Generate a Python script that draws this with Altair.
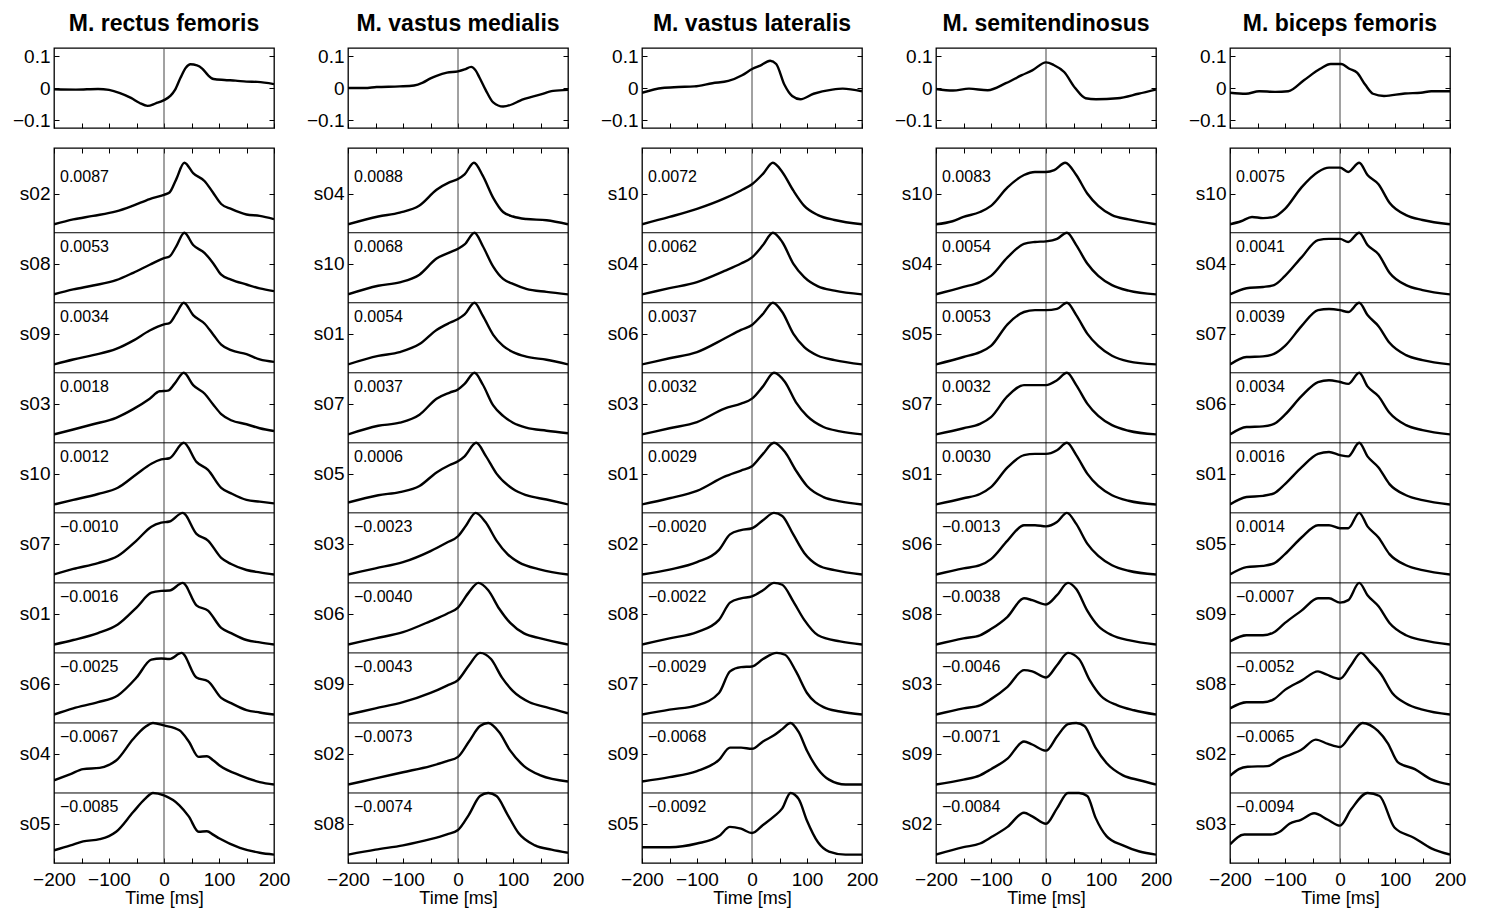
import altair as alt
import pandas as pd

FONT = "Liberation Sans"
W = 220
H_TOP = 80
H_BOT = 715
Y_MAX = 10.21
E = 44

MUSCLES = ["M. rectus femoris", "M. vastus medialis", "M. vastus lateralis",
           "M. semitendinosus", "M. biceps femoris"]
XTICKS = [-200, -150, -100, -50, 0, 50, 100, 150, 200]
YTICKS_TOP = [-0.1, 0, 0.1]

# ---- top panels: difference curves (time ms, value) ----
RF_DIFF = [(-200, -0.004), (-160, -0.005), (-120, -0.003), (-100, -0.006), (-80, -0.016), (-60, -0.031),
           (-45, -0.046), (-30, -0.056), (-15, -0.048), (0, -0.038), (12, -0.024), (20, -0.006), (30, 0.032),
           (40, 0.064), (48, 0.074), (60, 0.071), (70, 0.06), (80, 0.04), (90, 0.028), (110, 0.025),
           (130, 0.023), (150, 0.02), (170, 0.019), (200, 0.012)]
VM_DIFF = [(-200, 0.0), (-170, 0.0), (-148, 0.003), (-106, 0.005), (-80, 0.008), (-64, 0.017), (-50, 0.03),
           (-39, 0.038), (-20, 0.048), (0, 0.052), (12, 0.058), (24, 0.066), (32, 0.055), (39, 0.033),
           (50, -0.005), (64, -0.045), (82, -0.058), (100, -0.05), (112, -0.04), (149, -0.021),
           (173, -0.009), (200, -0.006)]
VL_DIFF = [(-200, -0.015), (-163, 0.0), (-134, 0.003), (-105, 0.005), (-72, 0.015), (-43, 0.022),
           (-18, 0.04), (1, 0.06), (15, 0.07), (33, 0.085), (44, 0.075), (59, 0.01), (73, -0.025),
           (88, -0.035), (112, -0.018), (146, -0.005), (165, -0.002), (200, -0.01)]
ST_DIFF = [(-200, -0.003), (-169, -0.008), (-140, -0.002), (-106, -0.007), (-73, 0.015), (-44, 0.04),
           (-25, 0.055), (0, 0.08), (14, 0.072), (33, 0.05), (53, 0.0), (72, -0.032), (91, -0.035),
           (130, -0.032), (168, -0.018), (200, -0.005)]
BF_DIFF = [(-200, -0.015), (-171, -0.018), (-147, -0.01), (-118, -0.012), (-94, -0.01), (-65, 0.025),
           (-36, 0.06), (-17, 0.075), (2, 0.075), (17, 0.06), (31, 0.048), (46, 0.01), (60, -0.018),
           (80, -0.025), (118, -0.017), (147, -0.015), (166, -0.01), (200, -0.01)]

# ---- bottom panels: row order, annotations, normalized curves (time ms, 0..1) ----
RF_ORDER = ["s02", "s08", "s09", "s03", "s10", "s07", "s01", "s06", "s04", "s05"]
RF_NOTES = ["0.0087", "0.0053", "0.0034", "0.0018", "0.0012", "\u22120.0010", "\u22120.0016",
            "\u22120.0025", "\u22120.0067", "\u22120.0085"]
RF_CURVES = {
    "s02": [(-200, 0), (-165, 0.08), (-129, 0.137), (-87, 0.21), (-56, 0.305), (-26, 0.41), (0, 0.48),
            (10, 0.516), (22, 0.726), (37, 1.0), (53, 0.83), (74, 0.7), (89, 0.516), (104, 0.33),
            (122, 0.25), (150, 0.16), (174, 0.137), (200, 0.084)],
    "s08": [(-200, 0), (-165, 0.08), (-129, 0.144), (-87, 0.23), (-56, 0.35), (-26, 0.48), (0, 0.588),
            (10, 0.615), (22, 0.775), (37, 1.0), (53, 0.8), (74, 0.67), (89, 0.51), (104, 0.32),
            (122, 0.24), (150, 0.16), (174, 0.096), (200, 0.053)],
    "s09": [(-200, 0), (-165, 0.08), (-129, 0.15), (-87, 0.25), (-56, 0.385), (-26, 0.55), (0, 0.65),
            (10, 0.67), (22, 0.82), (36, 1.0), (53, 0.8), (74, 0.66), (89, 0.49), (104, 0.32),
            (122, 0.23), (150, 0.165), (174, 0.08), (200, 0.04)],
    "s03": [(-200, 0), (-165, 0.08), (-129, 0.165), (-87, 0.27), (-56, 0.41), (-26, 0.58), (-8, 0.70),
            (7, 0.71), (19, 0.82), (36, 1.0), (53, 0.8), (74, 0.66), (89, 0.49), (104, 0.33),
            (122, 0.23), (150, 0.165), (174, 0.1), (200, 0.055)],
    "s10": [(-200, 0), (-165, 0.073), (-120, 0.17), (-84, 0.27), (-50, 0.49), (-23, 0.66), (-5, 0.73),
            (10, 0.75), (36, 1.0), (59, 0.69), (80, 0.56), (104, 0.27), (122, 0.18), (150, 0.073),
            (174, 0.045), (200, 0.017)],
    "s07": [(-200, 0), (-165, 0.09), (-120, 0.185), (-84, 0.3), (-50, 0.55), (-23, 0.775), (-5, 0.84),
            (10, 0.86), (34, 1.0), (59, 0.66), (80, 0.55), (104, 0.27), (122, 0.17), (150, 0.073),
            (174, 0.034), (200, 0)],
    "s01": [(-200, 0), (-165, 0.073), (-120, 0.185), (-84, 0.325), (-50, 0.6), (-23, 0.84), (-5, 0.87),
            (10, 0.876), (34, 1.0), (59, 0.635), (80, 0.55), (104, 0.27), (122, 0.185), (150, 0.073),
            (174, 0.034), (200, 0)],
    "s06": [(-200, 0), (-165, 0.1), (-120, 0.2), (-84, 0.31), (-50, 0.6), (-23, 0.89), (-5, 0.91),
            (10, 0.9), (32, 1.0), (59, 0.6), (80, 0.54), (104, 0.27), (122, 0.185), (150, 0.073),
            (174, 0.034), (200, 0)],
    "s04": [(-200, 0.07), (-170, 0.17), (-147, 0.25), (-117, 0.27), (-100, 0.32), (-87, 0.39), (-56, 0.74),
            (-35, 0.93), (-20, 1.0), (0, 0.96), (28, 0.88), (45, 0.7), (63, 0.45), (78, 0.46), (90, 0.39),
            (101, 0.31), (138, 0.15), (174, 0.04), (200, 0)],
    "s05": [(-200, 0.07), (-170, 0.15), (-147, 0.215), (-117, 0.25), (-100, 0.3), (-87, 0.37), (-56, 0.69),
            (-35, 0.9), (-20, 1.0), (0, 0.96), (28, 0.8), (45, 0.62), (63, 0.37), (78, 0.38), (90, 0.32),
            (101, 0.26), (138, 0.11), (174, 0.03), (200, 0)],
}

VM_ORDER = ["s04", "s10", "s01", "s07", "s05", "s03", "s06", "s09", "s02", "s08"]
VM_NOTES = ["0.0088", "0.0068", "0.0054", "0.0037", "0.0006", "\u22120.0023", "\u22120.0040",
            "\u22120.0043", "\u22120.0073", "\u22120.0074"]
VM_CURVES = {
    "s04": [(-200, 0), (-145, 0.127), (-106, 0.19), (-70, 0.305), (-39, 0.56), (-15, 0.685), (0, 0.736),
            (12, 0.81), (29, 1.0), (45, 0.79), (64, 0.43), (82, 0.2), (100, 0.127), (124, 0.086),
            (161, 0.066), (200, 0)],
    "s10": [(-200, 0), (-145, 0.14), (-106, 0.195), (-70, 0.32), (-39, 0.58), (-15, 0.68), (0, 0.74),
            (12, 0.81), (30, 1.0), (45, 0.785), (64, 0.45), (82, 0.25), (100, 0.17), (124, 0.09),
            (161, 0.04), (200, 0)],
    "s01": [(-200, 0), (-145, 0.137), (-106, 0.2), (-70, 0.33), (-39, 0.56), (-15, 0.675), (0, 0.736),
            (12, 0.81), (30, 1.0), (45, 0.79), (64, 0.48), (82, 0.3), (100, 0.2), (124, 0.127),
            (161, 0.076), (200, 0)],
    "s07": [(-200, 0), (-145, 0.14), (-106, 0.19), (-70, 0.32), (-39, 0.58), (-15, 0.68), (0, 0.73),
            (12, 0.82), (30, 1.0), (45, 0.81), (64, 0.47), (82, 0.3), (100, 0.19), (124, 0.11),
            (161, 0.06), (200, 0.02)],
    "s05": [(-200, 0.03), (-145, 0.15), (-106, 0.2), (-70, 0.3), (-39, 0.52), (-15, 0.64), (0, 0.7),
            (12, 0.78), (33, 1.0), (51, 0.78), (70, 0.5), (100, 0.25), (124, 0.15), (161, 0.08), (200, 0)],
    "s03": [(-200, 0), (-150, 0.1), (-100, 0.2), (-50, 0.38), (-20, 0.52), (0, 0.62), (15, 0.8), (32, 1.0),
            (50, 0.85), (70, 0.55), (90, 0.33), (110, 0.2), (150, 0.08), (200, 0)],
    "s06": [(-200, 0), (-150, 0.1), (-100, 0.2), (-50, 0.38), (-20, 0.5), (0, 0.6), (20, 0.85), (37, 1.0),
            (55, 0.88), (75, 0.58), (95, 0.35), (120, 0.18), (150, 0.1), (200, 0)],
    "s09": [(-200, 0), (-150, 0.1), (-100, 0.2), (-50, 0.35), (-20, 0.47), (0, 0.56), (20, 0.8), (40, 1.0),
            (60, 0.9), (80, 0.6), (100, 0.38), (130, 0.2), (160, 0.12), (200, 0.02)],
    "s02": [(-200, 0), (-150, 0.1), (-100, 0.2), (-50, 0.3), (-20, 0.38), (0, 0.45), (20, 0.7), (40, 0.95),
            (55, 1.0), (75, 0.85), (95, 0.55), (120, 0.3), (150, 0.15), (200, 0.05)],
    "s08": [(-200, 0), (-150, 0.08), (-100, 0.15), (-50, 0.25), (-20, 0.33), (0, 0.4), (20, 0.65),
            (40, 0.95), (55, 1.0), (70, 0.95), (90, 0.65), (110, 0.35), (140, 0.15), (170, 0.08),
            (200, 0.03)],
}

VL_ORDER = ["s10", "s04", "s06", "s03", "s01", "s02", "s08", "s07", "s09", "s05"]
VL_NOTES = ["0.0072", "0.0062", "0.0037", "0.0032", "0.0029", "\u22120.0020", "\u22120.0022",
            "\u22120.0029", "\u22120.0068", "\u22120.0092"]
VL_CURVES = {
    "s10": [(-200, 0), (-150, 0.12), (-100, 0.25), (-50, 0.42), (-20, 0.55), (0, 0.65), (20, 0.82),
            (38, 1.0), (55, 0.85), (75, 0.55), (95, 0.3), (120, 0.15), (150, 0.07), (200, 0)],
    "s04": [(-200, 0), (-150, 0.1), (-100, 0.2), (-50, 0.38), (-20, 0.5), (0, 0.6), (20, 0.8), (38, 1.0),
            (55, 0.85), (75, 0.5), (95, 0.28), (120, 0.13), (150, 0.06), (200, 0)],
    "s06": [(-200, 0), (-150, 0.1), (-100, 0.2), (-50, 0.42), (-20, 0.56), (0, 0.64), (20, 0.82),
            (38, 1.0), (55, 0.85), (75, 0.5), (95, 0.28), (120, 0.14), (150, 0.07), (200, 0)],
    "s03": [(-200, 0), (-150, 0.1), (-100, 0.2), (-50, 0.42), (-20, 0.5), (0, 0.58), (20, 0.78), (40, 1.0),
            (60, 0.85), (80, 0.52), (100, 0.3), (130, 0.12), (160, 0.05), (200, 0)],
    "s01": [(-200, 0), (-150, 0.1), (-100, 0.22), (-50, 0.45), (-20, 0.55), (0, 0.62), (20, 0.82),
            (40, 1.0), (60, 0.85), (80, 0.55), (100, 0.3), (130, 0.12), (160, 0.05), (200, 0)],
    "s02": [(-200, 0), (-150, 0.08), (-100, 0.2), (-60, 0.4), (-40, 0.65), (-20, 0.72), (0, 0.75),
            (20, 0.88), (40, 1.0), (55, 0.95), (75, 0.65), (95, 0.35), (120, 0.15), (150, 0.07), (200, 0)],
    "s08": [(-200, 0), (-150, 0.1), (-100, 0.2), (-60, 0.4), (-40, 0.68), (-20, 0.75), (0, 0.78),
            (20, 0.88), (40, 1.0), (55, 0.97), (75, 0.7), (95, 0.4), (120, 0.15), (160, 0.05), (200, 0)],
    "s07": [(-200, 0), (-150, 0.08), (-100, 0.15), (-60, 0.35), (-40, 0.7), (-20, 0.77), (0, 0.78),
            (20, 0.9), (45, 1.0), (60, 0.97), (80, 0.7), (100, 0.35), (130, 0.12), (160, 0.05), (200, 0)],
    "s09": [(-200, 0.05), (-150, 0.12), (-100, 0.22), (-60, 0.4), (-40, 0.6), (-20, 0.6), (0, 0.58),
            (20, 0.7), (40, 0.8), (55, 0.9), (70, 1.0), (85, 0.85), (100, 0.55), (120, 0.25), (140, 0.08),
            (170, 0), (200, 0)],
    "s05": [(-200, 0.12), (-150, 0.12), (-100, 0.18), (-60, 0.3), (-40, 0.45), (-20, 0.42), (0, 0.35),
            (20, 0.48), (40, 0.62), (55, 0.75), (70, 1.0), (85, 0.9), (100, 0.55), (120, 0.2), (140, 0.05),
            (170, 0), (200, 0)],
}

ST_ORDER = ["s10", "s04", "s05", "s07", "s01", "s06", "s08", "s03", "s09", "s02"]
ST_NOTES = ["0.0083", "0.0054", "0.0053", "0.0032", "0.0030", "\u22120.0013", "\u22120.0038",
            "\u22120.0046", "\u22120.0071", "\u22120.0084"]
ST_CURVES = {
    "s10": [(-200, 0), (-170, 0.05), (-150, 0.12), (-120, 0.2), (-100, 0.3), (-70, 0.6), (-40, 0.8),
            (-20, 0.85), (0, 0.85), (15, 0.88), (35, 1.0), (55, 0.8), (75, 0.5), (95, 0.3), (120, 0.15),
            (150, 0.08), (200, 0)],
    "s04": [(-200, 0), (-150, 0.12), (-120, 0.2), (-100, 0.3), (-70, 0.6), (-40, 0.82), (-20, 0.85),
            (0, 0.86), (20, 0.9), (38, 1.0), (55, 0.8), (75, 0.5), (95, 0.3), (120, 0.15), (150, 0.06),
            (200, 0)],
    "s05": [(-200, 0), (-150, 0.12), (-120, 0.2), (-100, 0.3), (-70, 0.65), (-40, 0.85), (-20, 0.88),
            (0, 0.88), (20, 0.9), (38, 1.0), (55, 0.8), (75, 0.5), (95, 0.3), (120, 0.14), (150, 0.05),
            (200, 0)],
    "s07": [(-200, 0), (-150, 0.1), (-120, 0.17), (-100, 0.28), (-70, 0.62), (-40, 0.8), (-20, 0.8),
            (0, 0.8), (20, 0.88), (38, 1.0), (55, 0.8), (75, 0.5), (95, 0.3), (120, 0.15), (150, 0.06),
            (200, 0)],
    "s01": [(-200, 0), (-150, 0.1), (-120, 0.17), (-100, 0.28), (-70, 0.6), (-40, 0.8), (-20, 0.82),
            (0, 0.82), (20, 0.88), (38, 1.0), (55, 0.8), (75, 0.5), (95, 0.3), (120, 0.15), (150, 0.06),
            (200, 0)],
    "s06": [(-200, 0), (-150, 0.1), (-120, 0.15), (-100, 0.25), (-70, 0.55), (-40, 0.8), (-20, 0.8),
            (0, 0.78), (20, 0.85), (38, 1.0), (55, 0.82), (75, 0.5), (95, 0.3), (120, 0.15), (150, 0.06),
            (200, 0)],
    "s08": [(-200, 0), (-150, 0.1), (-120, 0.15), (-100, 0.25), (-70, 0.45), (-40, 0.75), (-25, 0.72),
            (0, 0.65), (20, 0.8), (40, 1.0), (55, 0.9), (75, 0.55), (95, 0.3), (120, 0.15), (150, 0.07),
            (200, 0)],
    "s03": [(-200, 0), (-150, 0.1), (-120, 0.15), (-100, 0.25), (-70, 0.45), (-40, 0.72), (-25, 0.7),
            (0, 0.6), (20, 0.8), (40, 1.0), (60, 0.9), (80, 0.55), (100, 0.3), (130, 0.15), (160, 0.07),
            (200, 0)],
    "s09": [(-200, 0), (-150, 0.08), (-120, 0.15), (-100, 0.25), (-70, 0.42), (-40, 0.7), (-25, 0.65),
            (0, 0.55), (20, 0.78), (40, 0.98), (55, 1.0), (70, 0.95), (90, 0.6), (110, 0.35), (140, 0.15),
            (170, 0.07), (200, 0)],
    "s02": [(-200, 0), (-150, 0.12), (-120, 0.18), (-100, 0.28), (-70, 0.45), (-40, 0.68), (-25, 0.62),
            (0, 0.5), (20, 0.75), (40, 1.0), (60, 1.0), (75, 0.95), (90, 0.6), (110, 0.3), (140, 0.15),
            (170, 0.05), (200, 0)],
}

BF_ORDER = ["s10", "s04", "s07", "s06", "s01", "s05", "s09", "s08", "s02", "s03"]
BF_NOTES = ["0.0075", "0.0041", "0.0039", "0.0034", "0.0016", "0.0014", "\u22120.0007",
            "\u22120.0052", "\u22120.0065", "\u22120.0094"]
BF_CURVES = {
    "s10": [(-200, 0), (-180, 0.05), (-160, 0.12), (-140, 0.1), (-120, 0.12), (-100, 0.25), (-70, 0.6),
            (-40, 0.85), (-20, 0.92), (0, 0.92), (15, 0.85), (35, 1.0), (50, 0.8), (70, 0.65), (90, 0.35),
            (120, 0.15), (150, 0.07), (200, 0)],
    "s04": [(-200, 0), (-170, 0.1), (-140, 0.12), (-120, 0.15), (-100, 0.3), (-70, 0.6), (-40, 0.88),
            (-20, 0.9), (0, 0.9), (15, 0.85), (35, 1.0), (50, 0.8), (70, 0.65), (90, 0.35), (120, 0.15),
            (150, 0.07), (200, 0)],
    "s07": [(-200, 0), (-170, 0.12), (-140, 0.13), (-120, 0.17), (-100, 0.3), (-70, 0.62), (-40, 0.88),
            (-20, 0.9), (0, 0.88), (15, 0.85), (35, 1.0), (50, 0.8), (70, 0.62), (90, 0.35), (120, 0.15),
            (150, 0.07), (200, 0)],
    "s06": [(-200, 0), (-170, 0.12), (-140, 0.13), (-120, 0.17), (-100, 0.32), (-70, 0.62), (-40, 0.85),
            (-20, 0.88), (0, 0.85), (15, 0.82), (35, 1.0), (50, 0.78), (70, 0.62), (90, 0.35), (120, 0.15),
            (150, 0.07), (200, 0)],
    "s01": [(-200, 0), (-170, 0.12), (-140, 0.14), (-120, 0.18), (-100, 0.33), (-70, 0.6), (-40, 0.82),
            (-20, 0.85), (0, 0.8), (15, 0.78), (35, 1.0), (50, 0.78), (70, 0.6), (90, 0.33), (120, 0.15),
            (150, 0.07), (200, 0)],
    "s05": [(-200, 0), (-170, 0.12), (-140, 0.14), (-120, 0.18), (-100, 0.33), (-70, 0.6), (-40, 0.8),
            (-20, 0.8), (0, 0.75), (15, 0.75), (35, 1.0), (50, 0.78), (70, 0.6), (90, 0.33), (120, 0.15),
            (150, 0.07), (200, 0)],
    "s09": [(-200, 0.05), (-170, 0.15), (-140, 0.15), (-120, 0.2), (-100, 0.35), (-70, 0.55), (-40, 0.75),
            (-20, 0.75), (0, 0.68), (15, 0.72), (35, 1.0), (50, 0.8), (70, 0.62), (90, 0.35), (120, 0.15),
            (150, 0.07), (200, 0)],
    "s08": [(-200, 0.1), (-170, 0.2), (-140, 0.2), (-120, 0.25), (-100, 0.4), (-70, 0.55), (-40, 0.7),
            (-25, 0.65), (0, 0.58), (20, 0.8), (38, 1.0), (55, 0.85), (75, 0.65), (95, 0.35), (120, 0.18),
            (150, 0.08), (200, 0)],
    "s02": [(-200, 0.14), (-184, 0.25), (-168, 0.29), (-132, 0.30), (-108, 0.42), (-89, 0.49), (-71, 0.56),
            (-44, 0.73), (-22, 0.66), (0, 0.61), (20, 0.81), (41, 1.0), (69, 0.87), (87, 0.67),
            (105, 0.365), (136, 0.25), (166, 0.084), (200, 0)],
    "s03": [(-200, 0.166), (-174, 0.326), (-126, 0.326), (-108, 0.38), (-92, 0.5), (-71, 0.565),
            (-47, 0.67), (-22, 0.565), (0, 0.47), (20, 0.73), (50, 1.0), (72, 0.95), (99, 0.44),
            (135, 0.27), (166, 0.1), (200, 0)],
}

DIFFS = [RF_DIFF, VM_DIFF, VL_DIFF, ST_DIFF, BF_DIFF]
ORDERS = [RF_ORDER, VM_ORDER, VL_ORDER, ST_ORDER, BF_ORDER]
NOTES = [RF_NOTES, VM_NOTES, VL_NOTES, ST_NOTES, BF_NOTES]
CURVES = [RF_CURVES, VM_CURVES, VL_CURVES, ST_CURVES, BF_CURVES]

LINE_W = 2.4
LABEL_SIZE = 19


def xscale():
    return alt.Scale(domain=[-200, 200], nice=False, zero=False)


def tick_axis(orient, values, **kw):
    return alt.Axis(orient=orient, values=values, labels=False, domain=False, grid=False,
                    tickSize=5, offset=-5, title=None, minExtent=5, maxExtent=5, **kw)


def top_panel(name, pts):
    df = pd.DataFrame(pts, columns=["t", "v"])
    ys = alt.Scale(domain=[-0.125, 0.125], nice=False, zero=False)
    zero = alt.Chart(pd.DataFrame({"t": [0]})).mark_rule(color="#444", strokeWidth=1).encode(
        x=alt.X("t:Q", scale=xscale(), axis=None))
    line = alt.Chart(df).mark_line(color="black", strokeWidth=LINE_W, interpolate="monotone",
                                   clip=True).encode(
        x=alt.X("t:Q", scale=xscale(), axis=tick_axis("bottom", XTICKS)),
        y=alt.Y("v:Q", scale=ys, axis=alt.Axis(orient="left", values=YTICKS_TOP, format=".1~f",
                                                domain=False, grid=False, tickSize=5, offset=-5,
                                                labelPadding=4, title=None, minExtent=E, maxExtent=E)))
    ghost = alt.Chart(df).mark_line(strokeOpacity=0).encode(
        x=alt.X("t:Q", scale=xscale(), axis=None),
        y=alt.Y("v:Q", scale=ys, axis=tick_axis("right", YTICKS_TOP)))
    return alt.layer(zero, line, ghost).resolve_axis(x="independent", y="independent").properties(
        width=W, height=H_TOP,
        title=alt.TitleParams(name, anchor="middle", frame="group", offset=11))


def bottom_panel(order, notes, curves):
    rows = []
    for i, s in enumerate(order):
        for t, n in curves[s]:
            rows.append({"subject": s, "t": t, "y": (9 - i) + 0.12 + 0.88 * n})
    df = pd.DataFrame(rows)
    ys = alt.Scale(domain=[0, Y_MAX], nice=False, zero=False)
    yticks = [9.56 - i for i in range(10)]
    label_expr = "[" + ",".join("'%s'" % s for s in order) + "][round(9.56 - datum.value)]"
    seps = pd.DataFrame({"y": list(range(1, 10))})
    note_df = pd.DataFrame({"y": [9.8 - i for i in range(10)], "txt": notes})

    zero = alt.Chart(pd.DataFrame({"t": [0]})).mark_rule(color="#444", strokeWidth=1).encode(
        x=alt.X("t:Q", scale=xscale(), axis=None))
    sep = alt.Chart(seps).mark_rule(color="black", strokeWidth=1).encode(
        y=alt.Y("y:Q", scale=ys, axis=None))
    lines = alt.Chart(df).mark_line(color="black", strokeWidth=LINE_W, interpolate="monotone",
                                    clip=True).encode(
        x=alt.X("t:Q", scale=xscale(),
                axis=alt.Axis(orient="bottom", values=XTICKS, format="d",
                              labelExpr="datum.value % 100 == 0 ? datum.label : ''",
                              labelFlush=False, domain=False, grid=False, tickSize=5, offset=-5,
                              labelPadding=7, title="Time [ms]", titlePadding=0, titleFontSize=18)),
        y=alt.Y("y:Q", scale=ys,
                axis=alt.Axis(orient="left", values=yticks, labelExpr=label_expr, domain=False,
                              grid=False, tickSize=5, offset=-5, labelPadding=4, title=None,
                              minExtent=E, maxExtent=E)),
        detail="subject:N")
    ghost = alt.Chart(df).mark_line(strokeOpacity=0).encode(
        x=alt.X("t:Q", scale=xscale(), axis=tick_axis("top", XTICKS)),
        y=alt.Y("y:Q", scale=ys, axis=tick_axis("right", yticks)),
        detail="subject:N")
    text = alt.Chart(note_df).mark_text(align="left", baseline="middle", fontSize=16, font=FONT,
                                        color="black").encode(
        x=alt.value(6), y=alt.Y("y:Q", scale=ys, axis=None), text="txt:N")
    return alt.layer(zero, sep, lines, ghost, text).resolve_axis(
        x="independent", y="independent").properties(width=W, height=H_BOT)


columns = []
for k in range(5):
    columns.append(alt.vconcat(top_panel(MUSCLES[k], DIFFS[k]),
                               bottom_panel(ORDERS[k], NOTES[k], CURVES[k]), spacing=15))

chart = alt.hconcat(*columns, spacing=14).properties(
    padding={"left": 3, "top": 4, "right": 0, "bottom": 0}
).configure_view(stroke="black", strokeWidth=1.3).configure_axis(
    labelFont=FONT, labelFontSize=LABEL_SIZE, labelColor="black", tickColor="black", tickWidth=1,
    titleFont=FONT, titleFontSize=LABEL_SIZE, titleFontWeight="normal", titleColor="black"
).configure_title(font=FONT, fontSize=23, fontWeight="bold", color="black")

chart.save("out.html", embed_options={"renderer": "svg", "actions": False})
